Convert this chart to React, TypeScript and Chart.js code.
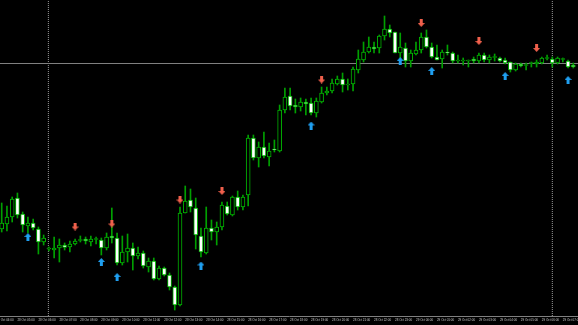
import { useEffect, useRef } from "react";
import { Chart, registerables } from "chart.js";

Chart.register(...registerables);

// OHLC price levels (points), one entry per bar
const opens = [
  171, 176, 183, 202, 186, 174, 177, 171, 158, 151,
  150, 152, 155, 153, 156, 159.5, 161, 158, 160.5, 160,
  152, 164, 162, 137, 148, 152, 144, 147, 133, 139,
  121, 132, 125, 113, 95, 187, 200, 192, 164, 147,
  172, 168, 173, 194, 185, 203, 193, 205, 262, 242,
  253, 243, 251, 249, 290, 304, 295, 293, 298, 297,
  287, 298, 307, 309, 316, 321, 315, 316, 330, 340,
  348, 353, 352, 364, 371, 368, 347, 352, 339, 346,
  350, 363, 353, 343, 341, 348, 347, 339, 339, 339,
  341, 339, 345, 340, 342.5, 342, 340, 338, 330, 336,
  334.5, 336.5, 336, 337, 341.5, 341, 337, 340.5, 339, 335,
];
const closes = [
  177, 183, 201, 185, 175, 177, 172, 158, 162, 152,
  152, 155, 152.5, 156, 159, 160.5, 159, 161, 161.5, 152,
  163, 162, 137, 148, 152, 144, 147, 134, 139, 121,
  132, 125, 113, 95, 187, 199, 193, 165, 148, 172,
  168, 173, 195, 186, 203, 193, 203, 262, 242, 253,
  244, 249, 250, 290, 303, 294, 293, 298, 296, 287,
  299, 307, 309, 317, 321, 315, 316, 331, 341, 348,
  353, 351, 364, 371, 367, 347, 353, 339, 347, 350,
  363, 353, 343, 340, 348, 347, 339, 340, 340, 340,
  339, 345, 340, 343, 343.5, 339, 337, 330, 336, 334,
  335.5, 337.5, 338, 342, 342.5, 337, 342, 341.5, 333, 333,
];
const highs = [
  197, 194, 203, 207, 188, 183, 181, 173, 165, 153,
  163, 161, 157, 159, 161, 164, 163, 164, 163, 162,
  167, 192, 167, 164, 166, 157, 153, 149, 142, 142,
  134, 133, 127, 114, 193, 214, 211, 202, 172, 193,
  180, 178, 198, 198, 204, 209, 205, 265, 265, 258,
  268, 257, 260, 295, 312, 312, 301, 302, 301, 302,
  302, 313, 313, 321, 324, 327, 321, 333, 350, 358,
  363, 358, 365, 384, 375, 368, 367, 357, 350, 358,
  367, 370, 357, 355, 350, 355, 348, 345, 342, 340,
  343, 347, 347, 345, 346, 343, 342, 338, 337, 337,
  337, 338, 340, 343, 345, 343, 343, 342, 340, 337,
];
const lows = [
  168, 169, 178, 182, 168, 167, 170, 146, 155, 149,
  142, 138, 150, 148, 155, 158, 156, 154, 156, 145,
  150, 157, 135, 135, 138, 130, 141, 132, 128, 120,
  120, 124, 110, 90, 94, 187, 188, 151, 143, 146,
  160, 155, 170, 185, 184, 190, 190, 194, 240, 233,
  242, 234, 248, 248, 287, 290, 287, 289, 285, 285,
  283, 297, 305, 307, 315, 308, 310, 309, 327, 338,
  347, 347, 347, 360, 363, 347, 342, 333, 333, 345,
  347, 352, 342, 340, 332, 345, 337, 337, 335, 333,
  337, 337, 338, 337, 339, 338, 336, 328, 329, 333,
  330, 333, 333, 336, 340, 333, 336, 338, 332, 332,
];

// time axis
const tickBars = [-1, 3, 7, 11, 15, 19, 23, 27, 31, 35, 39, 43, 47, 51, 55, 59, 63, 67, 71, 75, 79, 83, 87, 91, 95, 99, 103, 107];
const timeLabels = [
  "28 Oct 04:00", "28 Oct 05:00", "28 Oct 06:00", "28 Oct 07:00", "28 Oct 08:00", "28 Oct 09:00", "28 Oct 10:00",
  "28 Oct 11:00", "28 Oct 12:00", "28 Oct 13:00", "28 Oct 14:00", "28 Oct 15:00", "28 Oct 16:00", "28 Oct 17:00",
  "28 Oct 18:00", "28 Oct 19:00", "28 Oct 20:00", "28 Oct 21:00", "28 Oct 22:00", "28 Oct 23:00", "29 Oct 00:00",
  "29 Oct 01:00", "29 Oct 02:00", "29 Oct 03:00", "29 Oct 04:00", "29 Oct 05:00", "29 Oct 06:00", "29 Oct 07:00",
];

// signal arrows
const buyBars = [5, 19, 22, 38, 59, 76, 82, 96, 108];
const buyLevels = [163, 138, 123, 134.5, 274.5, 339, 329, 324, 320];
const sellBars = [14, 21, 34, 42, 61, 80, 91, 102];
const sellLevels = [173.5, 176.5, 200.5, 209, 320.5, 377, 359, 352];

// lines
const priceLineLevel = 336.5;
const separatorBars = [8.9, 105];

function makeArrow(color: string, up: boolean) {
  const c = document.createElement("canvas");
  c.width = 7;
  c.height = 8;
  const g = c.getContext("2d")!;
  g.fillStyle = color;
  g.beginPath();
  if (up) {
    g.moveTo(3.5, 0); g.lineTo(7, 4); g.lineTo(5, 4); g.lineTo(5, 8);
    g.lineTo(2, 8); g.lineTo(2, 4); g.lineTo(0, 4);
  } else {
    g.moveTo(2, 0); g.lineTo(5, 0); g.lineTo(5, 4); g.lineTo(7, 4);
    g.lineTo(3.5, 8); g.lineTo(0, 4); g.lineTo(2, 4);
  }
  g.closePath();
  g.fill();
  return c;
}

export default function App() {
  const ref = useRef<HTMLCanvasElement>(null);
  useEffect(() => {
    document.body.style.margin = "0";
    document.body.style.background = "#000";
    const upImg = makeArrow("#1f9ff0", true);
    const downImg = makeArrow("#f0604c", false);
    const idx = opens.map((_, i) => i);
    const datasets: any[] = [
      {
        type: "scatter",
        data: buyBars.map((x, k) => ({ x, y: buyLevels[k] })),
        pointStyle: upImg,
        pointRadius: 4,
        order: 0,
      },
      {
        type: "scatter",
        data: sellBars.map((x, k) => ({ x, y: sellLevels[k] })),
        pointStyle: downImg,
        pointRadius: 4,
        order: 0,
      },
      {
        type: "bar",
        data: idx.map((i) => ({ x: i, y: [opens[i], closes[i]] })),
        backgroundColor: (ctx: any) => {
          const i = ctx.dataIndex;
          return closes[i] >= opens[i] ? "#000000" : "#ffffff";
        },
        borderColor: "#00b400",
        borderWidth: 1,
        borderSkipped: false,
        barThickness: 4,
        grouped: false,
        order: 1,
      },
      {
        type: "bar",
        data: idx.map((i) => ({ x: i, y: [lows[i], highs[i]] })),
        backgroundColor: "#00a000",
        borderWidth: 0,
        barThickness: 1,
        grouped: false,
        order: 2,
      },
      {
        type: "line",
        data: [{ x: -2, y: priceLineLevel }, { x: 112, y: priceLineLevel }],
        borderColor: "#808080",
        borderWidth: 1,
        pointRadius: 0,
        fill: false,
        order: 3,
      },
      ...separatorBars.map((b) => ({
        type: "line",
        data: [{ x: b, y: 84 }, { x: b, y: 400 }],
        borderColor: "#9a9a9a",
        borderWidth: 1,
        borderDash: [1, 1],
        pointRadius: 0,
        fill: false,
        order: 3,
      })),
    ];
    const chart = new Chart(ref.current!, {
      type: "bar",
      data: { datasets },
      options: {
        animation: false,
        responsive: false,
        events: [],
        layout: { padding: 0, autoPadding: false },
        plugins: { legend: { display: false }, tooltip: { enabled: false } },
        scales: {
          x: {
            type: "linear",
            min: -0.324,
            max: 109.896,
            offset: false,
            grid: { display: false, drawTicks: false },
            border: { display: true, color: "#808080", width: 1 },
            ticks: {
              autoSkip: false,
              maxRotation: 0,
              minRotation: 0,
              align: "start",
              color: "#c8c8c8",
              padding: 2,
              font: { size: 3, family: "Liberation Sans" },
              callback: (_v: any, index: number) => timeLabels[index] ?? "",
            },
            afterBuildTicks: (s: any) => {
              s.ticks = tickBars.map((v) => ({ value: v }));
            },
            afterFit: (s: any) => {
              s.height = 9;
              s.paddingLeft = 0;
              s.paddingRight = 0;
            },
          },
          y: { type: "linear", display: false, min: 84, max: 400 },
        },
      } as any,
    });
    return () => chart.destroy();
  }, []);
  return (
    <canvas
      ref={ref}
      width={578}
      height={325}
      style={{ display: "block", background: "#000", width: 578, height: 325 }}
    />
  );
}
